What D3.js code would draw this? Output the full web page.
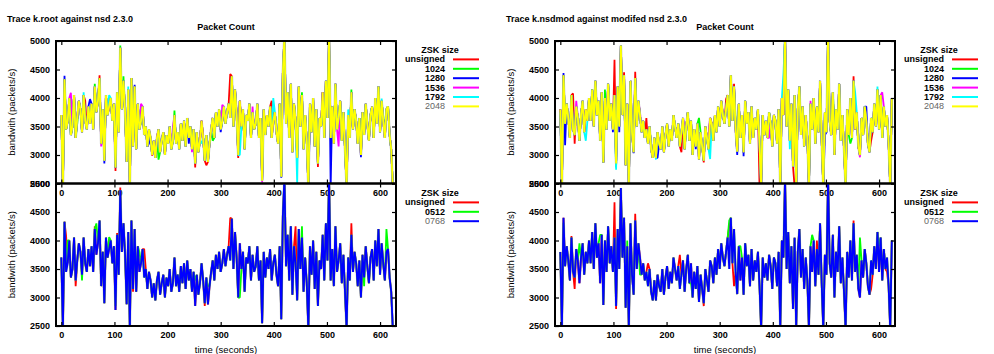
<!DOCTYPE html>
<html>
<head>
<meta charset="utf-8">
<script src="https://cdn.jsdelivr.net/npm/d3@7"></script>
<style>
  body { margin: 0; background: #fff; }
  svg text { font-family: "Liberation Sans", Arial, sans-serif; font-size: 9px; font-weight: bold; fill: #000; }
  svg text.axis-title { font-weight: normal; font-size: 9.5px; }
</style>
</head>
<body>
<div id="chart"></div>
<script>
// sampling step of the traces (seconds)
const timeStep = 3
const xTicks = [0, 100, 200, 300, 400, 500, 600]
const yTicks = [2500, 3000, 3500, 4000, 4500, 5000]
const zskTop = ['unsigned', '1024', '1280', '1536', '1792', '2048']
const zskBottom = ['unsigned', '0512', '0768']

// k.root trace, packets/s every 3 s (topmost series of each plot)
const krootTrace = [
  3700, 2450, 4330, 3450, 3600, 4000, 3350, 3500, 4050, 3300,
  3650, 3950, 3800, 3400, 4050, 3600, 3450, 3850, 3550, 3900,
  3450, 4200, 3750, 3950, 4350, 3200, 3800, 2900, 4050, 3700,
  3850, 4000, 3600, 3900, 2780, 4100, 3400, 4880, 3800, 4300,
  3750, 2880, 4150, 2450, 4350, 3150, 4200, 3100, 3900, 3450,
  3600, 3850, 3350, 3500, 3150, 3450, 3300, 3000, 3250, 2950,
  3300, 3450, 3050, 3250, 3400, 3000, 3350, 3200, 3500, 3100,
  3250, 3700, 3200, 3400, 3100, 3550, 3250, 3600, 3150, 3650,
  3300, 3500, 3100, 3450, 2850, 3400, 3050, 3250, 3600, 3300,
  2900, 3350, 2880, 3200, 3450, 3650, 3300, 3750, 3500, 3800,
  3450, 3600, 3850, 3550, 3750, 3900, 3650, 4380, 3500, 4150,
  3700, 3000, 3950, 3500, 3800, 3100, 3700, 3600, 3900, 3300,
  3750, 3450, 3550, 3900, 3300, 3650, 2550, 3800, 3350, 3700,
  3500, 3850, 3300, 3600, 3750, 3400, 3200, 3900, 2620, 4430,
  5100, 3550, 4100, 3300, 4250, 3050, 3900, 3600, 2950, 4200,
  3500, 4050, 3100, 3700, 3250, 2450, 3900, 3400, 4000, 3150,
  3800, 2850, 3650, 3500, 4100, 3300, 4300, 3650, 5100, 3300,
  3850, 3200, 4250, 3450, 3650, 3950, 3250, 3750, 3100, 2450,
  3700, 3300, 4100, 3450, 3800, 3600, 3200, 3650, 3000, 3750,
  3350, 3900, 3550, 3250, 3700, 3850, 3300, 4000, 3550, 4200,
  3400, 3950, 3600, 3300, 3800, 3850, 3350, 3100, 2450
]

// k.nsdmod trace, packets/s every 3 s
const nsdmodTrace = [
  3800, 2450, 4400, 3550, 3900, 3650, 3300, 4050, 3450, 3350,
  3850, 3650, 3250, 3700, 3950, 3400, 3800, 3600, 4000, 3600,
  4150, 3500, 4300, 3700, 3950, 3250, 4100, 2870, 4000, 3450,
  4250, 3600, 3900, 3450, 4050, 2850, 4200, 3500, 4920, 3700,
  4400, 2820, 3900, 2450, 4300, 3400, 3050, 4350, 3500, 3950,
  3700, 3400, 3600, 3300, 3450, 3200, 3500, 3100, 2950, 3300,
  2950, 3400, 3200, 3100, 3500, 3050, 3350, 3550, 3150, 3450,
  3250, 3700, 3500, 3300, 3550, 3150, 3400, 3650, 3100, 3500,
  3750, 3250, 3600, 3000, 3450, 3150, 3550, 2920, 3400, 3150,
  2900, 3500, 3300, 3100, 3650, 3550, 3250, 3700, 3400, 3850,
  3500, 3950, 3700, 3550, 3800, 4050, 3500, 4400, 3600, 4200,
  3450, 3060, 3900, 3300, 3700, 3050, 3950, 3550, 3750, 3200,
  3850, 3300, 3650, 3450, 3800, 3200, 2450, 3700, 3350, 3600,
  3300, 3750, 3550, 3150, 3700, 3600, 3200, 3800, 2450, 4000,
  3700, 5100, 3500, 4150, 3250, 3900, 2800, 4050, 2450, 3800,
  4200, 3350, 3850, 3150, 3700, 3300, 2450, 3900, 3450, 4000,
  3200, 3850, 3400, 4300, 3250, 2450, 3750, 3400, 5100, 3600,
  3350, 4100, 3000, 3800, 3450, 4250, 3250, 3700, 3100, 2450,
  3800, 3350, 4000, 3300, 4300, 3450, 3750, 3150, 3000, 3650,
  3350, 3850, 3600, 3200, 3050, 3650, 3400, 3900, 3500, 4150,
  3450, 4050, 3300, 3850, 3500, 3700, 3200, 2450, 4000
]

// points where a series differs from the trace drawn on top [time, packets/s]
const krootTopUnsigned = [[45, 3950], [72, 4400], [102, 2720], [171, 2990], [222, 3250], [252, 2780], [273, 2820], [318, 4420], [333, 2950], [396, 3950], [483, 2790], [591, 3950]]
const krootTop1024 = [[30, 3550], [63, 4250], [111, 4920], [117, 4380], [183, 2920], [213, 3780], [285, 3250], [339, 3450], [453, 4100], [546, 4150], [609, 3500]]
const krootTop1280 = [[6, 4390], [54, 3980], [81, 2850], [138, 4230], [165, 3200], [186, 3140], [240, 3200], [300, 3400], [330, 3760], [414, 2600], [468, 3650], [507, 2450], [564, 2960]]
const krootTop1536 = [[18, 4090], [75, 3150], [150, 3900], [210, 3480], [246, 3050], [303, 3880], [360, 3850], [378, 2520], [522, 3150], [561, 3450]]
const krootTop1792 = [[42, 4100], [90, 4050], [126, 4200], [180, 3250], [264, 3200], [336, 3000], [399, 4000], [444, 2480], [492, 3950], [540, 3800], [603, 3990]]
const krootBottomUnsigned = [[9, 4080], [27, 3200], [63, 4250], [105, 4130], [111, 4930], [135, 3100], [156, 3850], [201, 3200], [270, 2850], [318, 4400], [441, 4250], [546, 4300], [600, 3450]]
const krootBottom0512 = [[12, 4000], [39, 3300], [66, 4300], [90, 4060], [102, 2850], [147, 3800], [177, 2950], [252, 3300], [276, 3200], [336, 3000], [453, 4250], [537, 2450], [570, 3200], [612, 4200]]

const nsdmodTopUnsigned = [[24, 4080], [27, 3200], [102, 4670], [120, 4450], [141, 4460], [162, 3650], [228, 3050], [270, 2870], [312, 3980], [327, 4250], [375, 2450], [441, 2450], [552, 4380], [585, 3250], [615, 3700]]
const nsdmodTop1024 = [[9, 3600], [84, 4150], [105, 2780], [171, 3150], [261, 3650], [330, 3600], [387, 3500], [462, 3600], [516, 3500], [546, 3200]]
const nsdmodTop1280 = [[6, 4440], [9, 3170], [99, 3400], [111, 3400], [138, 3030], [183, 2950], [255, 3100], [333, 3000], [345, 2980], [414, 2450], [498, 3350], [576, 3850], [624, 4000]]
const nsdmodTop1536 = [[30, 3950], [60, 3850], [150, 3750], [234, 3500], [279, 3350], [393, 3300], [471, 3950], [564, 2960], [606, 4100]]
const nsdmodTop1792 = [[0, 3750], [48, 3250], [105, 2740], [180, 2920], [282, 2930], [420, 4420], [432, 3100], [537, 2450], [555, 4100], [597, 4200]]
const nsdmodBottomUnsigned = [[21, 4080], [27, 3150], [102, 4670], [105, 2800], [141, 4470], [165, 3600], [225, 3750], [270, 2850], [318, 4250], [327, 3200], [378, 2450], [414, 2450], [483, 4000], [552, 4350], [585, 3150], [615, 3450]]
const nsdmodBottom0512 = [[6, 4310], [36, 3950], [75, 4100], [126, 4000], [150, 3400], [180, 2950], [246, 3250], [318, 4350], [339, 3900], [474, 4100], [537, 2450], [564, 4050], [600, 3900]]

const topColors = ['#ff0000', '#00ff00', '#0000ff', '#ff00ff', '#00ffff', '#ffff00']
const bottomColors = ['#ff0000', '#00ff00', '#0000ff']

// build one series from a trace and its differing points
function withTips(trace, tips) {
  const values = trace.slice()
  tips.forEach(([t, v]) => { values[Math.round(t / timeStep)] = v })
  return values.map((v, i) => ({ t: i * timeStep, v }))
}

const panels = [
  {
    dx: 0,
    title: 'Trace k.root against nsd 2.3.0',
    top: [krootTopUnsigned, krootTop1024, krootTop1280, krootTop1536, krootTop1792, []].map(d => withTips(krootTrace, d)),
    bottom: [krootBottomUnsigned, krootBottom0512, []].map(d => withTips(krootTrace, d))
  },
  {
    dx: 499,
    title: 'Trace k.nsdmod against modifed nsd 2.3.0',
    top: [nsdmodTopUnsigned, nsdmodTop1024, nsdmodTop1280, nsdmodTop1536, nsdmodTop1792, []].map(d => withTips(nsdmodTrace, d)),
    bottom: [nsdmodBottomUnsigned, nsdmodBottom0512, []].map(d => withTips(nsdmodTrace, d))
  }
]

const svg = d3.select('#chart')
  .append('svg')
  .attr('width', 994)
  .attr('height', 354)

const left = 56
const right = 396
let clipId = 0

function drawPlot(g, cfg) {
  const { y0, y1, series, names, colors, legendY, xTitle } = cfg
  const x = d3.scaleLinear().domain([-10, 630]).range([left, right])
  const y = d3.scaleLinear().domain([2500, 5000]).range([y1, y0])

  // clip area
  const id = `clip-${clipId++}`
  g.append('clipPath').attr('id', id)
    .append('rect')
    .attr('x', left).attr('y', y0)
    .attr('width', right - left).attr('height', y1 - y0)

  // series, last one on top
  const line = d3.line().x(d => x(d.t)).y(d => y(d.v))
  const lines = g.append('g').attr('clip-path', `url(#${id})`)
  series.forEach((d, i) => {
    if (i === series.length - 1) {
      // grey fringe left by the series underneath
      lines.append('path')
        .attr('d', line(d))
        .attr('fill', 'none')
        .attr('stroke', '#888')
        .attr('stroke-opacity', 0.45)
        .attr('stroke-width', 2.6)
        .attr('stroke-linejoin', 'bevel')
    }
    lines.append('path')
      .attr('d', line(d))
      .attr('fill', 'none')
      .attr('stroke', colors[i])
      .attr('stroke-width', 1.8)
      .attr('stroke-linejoin', 'bevel')
  })

  // axes with inward ticks on all sides
  const axisStyle = a => {
    a.select('.domain').remove()
    a.selectAll('line').attr('stroke', '#000').attr('stroke-width', 1.2)
    a.selectAll('text').attr('font-size', null).attr('font-family', null)
  }
  g.append('g').attr('transform', `translate(0,${y1})`)
    .call(d3.axisBottom(x).tickValues(xTicks).tickSize(-4).tickPadding(6))
    .call(axisStyle)
  g.append('g').attr('transform', `translate(0,${y0})`)
    .call(d3.axisTop(x).tickValues(xTicks).tickSize(-4).tickFormat(''))
    .call(axisStyle)
  g.append('g').attr('transform', `translate(${left},0)`)
    .call(d3.axisLeft(y).tickValues(yTicks).tickSize(-4).tickPadding(6).tickFormat(d3.format('d')))
    .call(axisStyle)
  g.append('g').attr('transform', `translate(${right},0)`)
    .call(d3.axisRight(y).tickValues(yTicks).tickSize(-4).tickFormat(''))
    .call(axisStyle)

  // frame
  g.append('rect')
    .attr('x', left).attr('y', y0)
    .attr('width', right - left).attr('height', y1 - y0)
    .attr('fill', 'none')
    .attr('stroke', '#000')
    .attr('stroke-width', 2)

  // y label
  g.append('text')
    .attr('class', 'axis-title')
    .attr('transform', `translate(15,${(y0 + y1) / 2}) rotate(-90)`)
    .attr('text-anchor', 'middle')
    .text('bandwith (packets/s)')

  if (xTitle) {
    g.append('text')
      .attr('class', 'axis-title')
      .attr('x', (left + right) / 2)
      .attr('y', 353)
      .attr('text-anchor', 'middle')
      .text('time (seconds)')
  }

  // legend
  g.append('text')
    .attr('x', 440).attr('y', legendY + 3)
    .attr('text-anchor', 'middle')
    .text('ZSK size')
  names.forEach((name, i) => {
    const ly = legendY + 9.4 * (i + 1)
    const last = i === names.length - 1
    g.append('text')
      .attr('x', 445).attr('y', ly + 3)
      .attr('text-anchor', 'end')
      .style('fill', last ? '#666' : null)
      .style('font-weight', last ? 'normal' : null)
      .text(name)
    g.append('line')
      .attr('x1', 453).attr('x2', 479)
      .attr('y1', ly).attr('y2', ly)
      .attr('stroke', colors[i])
      .attr('stroke-width', 2)
  })
}

panels.forEach(p => {
  const g = svg.append('g').attr('transform', `translate(${p.dx},0)`)
  g.append('text').attr('x', 7).attr('y', 22).text(p.title)
  g.append('text').attr('x', 226).attr('y', 30).attr('text-anchor', 'middle').text('Packet Count')
  drawPlot(g, { y0: 41, y1: 183.5, series: p.top, names: zskTop, colors: topColors, legendY: 50, xTitle: false })
  drawPlot(g, { y0: 183.5, y1: 326, series: p.bottom, names: zskBottom, colors: bottomColors, legendY: 193, xTitle: true })
})
</script>
</body>
</html>
